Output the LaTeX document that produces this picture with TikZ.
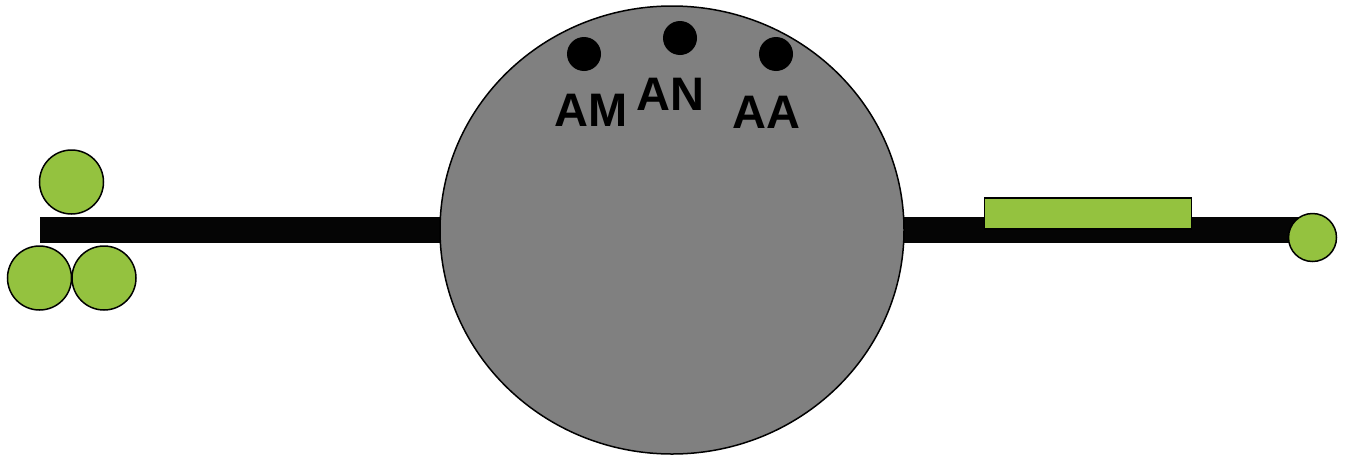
\documentclass[tikz,border=0pt]{standalone}
\usepackage{fontspec}
\setmainfont{Liberation Sans}
\usetikzlibrary{shapes.geometric}
\definecolor{leaf}{HTML}{94C23F}
\definecolor{disc}{HTML}{808080}
\definecolor{barblack}{HTML}{050505}
\tikzset{
  bar/.style={rectangle, fill=barblack, inner sep=0pt, minimum height=26pt},
  ball/.style={circle, draw=black, line width=1.5pt, fill=leaf, inner sep=0pt},
  dot/.style={circle, fill=black, inner sep=0pt, minimum size=34pt},
  lbl/.style={anchor=base west, inner sep=0pt, font=\fontsize{47}{50}\selectfont\bfseries},
}
\begin{document}
\begin{tikzpicture}[x=1pt,y=-1pt]
\useasboundingbox (0,0) rectangle (1351,458);
% bars
\node[bar, minimum width=420pt] (lbar) at (250,230) {};
\node[bar, minimum width=420pt] (rbar) at (1095,230) {};
% big disc
\node[ellipse, draw=black, line width=1.5pt, fill=disc, minimum width=464pt, minimum height=448pt, inner sep=0pt] (disc) at (672,230) {};
% dots and labels
\node[dot] (dAM) at (584,54) {};
\node[dot] (dAN) at (680,38) {};
\node[dot] (dAA) at (776,54) {};
\node[lbl] (tAM) at (554,126) {AM};
\node[lbl] (tAN) at (636,110) {AN};
\node[lbl] (tAA) at (732,128) {AA};
% left rollers
\node[ball, minimum size=64pt] (b1) at (71.5,182) {};
\node[ball, minimum size=64pt] (b2) at (39.5,278) {};
\node[ball, minimum size=64pt] (b3) at (104,278) {};
% right block and end ball
\node[rectangle, draw=black, line width=1.5pt, fill=leaf, minimum width=207pt, minimum height=31pt, inner sep=0pt] (blk) at (1088,213.5) {};
\node[ball, minimum size=48pt] (eb) at (1312.5,237.5) {};
\end{tikzpicture}
\end{document}
